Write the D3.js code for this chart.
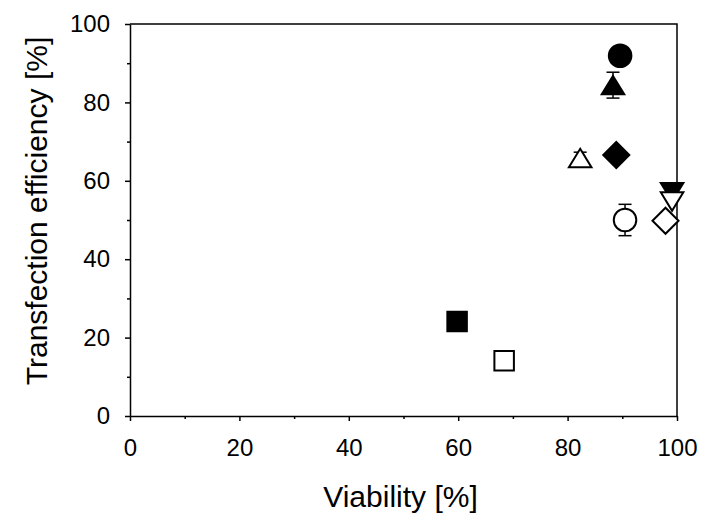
<!DOCTYPE html>
<html>
<head>
<meta charset="utf-8">
<script src="https://d3js.org/d3.v7.min.js"></script>
<style>
  body { margin: 0; background: #fff; }
  text { font-family: "Liberation Sans", Arial, sans-serif; fill: #000; }
</style>
</head>
<body>
<div id="chart"></div>
<script>
// data
var viability  = [89.6, 88.3, 82.3, 88.9, 99.1, 99.1, 97.9, 90.5, 59.8, 68.4];
var efficiency = [91.9, 84.4, 65.8, 66.6, 57.1, 54.7, 49.8, 50.0, 24.1, 14.1];
var errors     = [0,    3.3,  1.5,  0,    0,    0,    0,    4.0,  0,    0];
var shapes     = ["circle", "triUp", "triUp", "diamond", "triDown", "triDown", "diamond", "circle", "square", "square"];
var filled     = [true, true, false, true, true, false, false, false, true, false];
var ticks      = [0, 20, 40, 60, 80, 100];
var minorTicks = [10, 30, 50, 70, 90];

var W = 702, H = 525;
var margin = {top: 24, right: 25, bottom: 109, left: 130};
var width = W - margin.left - margin.right,
    height = H - margin.top - margin.bottom;

var svg = d3.select("#chart").append("svg")
    .attr("width", W).attr("height", H);
var g = svg.append("g")
    .attr("transform", "translate(" + margin.left + "," + margin.top + ")");

var x = d3.scaleLinear().domain([0, 100]).range([0, width]);
var y = d3.scaleLinear().domain([0, 100]).range([height, 0]);

// frame (top + right)
g.append("path")
  .attr("d", "M0,0H" + width + "V" + height)
  .attr("fill", "none").attr("stroke", "#000").attr("stroke-width", 1.5);

// axes
function styleAxis(sel) {
  sel.select(".domain").attr("stroke-width", 1.5);
  sel.selectAll(".tick line").attr("stroke-width", 1.5);
}
var xAxis = g.append("g").attr("transform", "translate(0," + height + ")")
  .call(d3.axisBottom(x).tickValues(ticks).tickSize(5).tickPadding(18).tickSizeOuter(0));
xAxis.call(styleAxis);
xAxis.selectAll("text").attr("font-size", 24).style("font-family", "Liberation Sans, Arial, sans-serif");
g.append("g").attr("transform", "translate(0," + height + ")")
  .call(d3.axisBottom(x).tickValues(minorTicks).tickSize(3).tickFormat(""))
  .call(function(s) { s.select(".domain").remove(); s.selectAll("line").attr("stroke-width", 1.5); });

var yAxis = g.append("g")
  .call(d3.axisLeft(y).tickValues(ticks).tickSize(5).tickPadding(15).tickSizeOuter(0));
yAxis.call(styleAxis);
yAxis.selectAll("text").attr("font-size", 24).style("font-family", "Liberation Sans, Arial, sans-serif");
g.append("g")
  .call(d3.axisLeft(y).tickValues(minorTicks).tickSize(3).tickFormat(""))
  .call(function(s) { s.select(".domain").remove(); s.selectAll("line").attr("stroke-width", 1.5); });

// axis titles
svg.append("text")
  .attr("x", margin.left + width / 2 - 3).attr("y", 507)
  .attr("text-anchor", "middle").attr("font-size", 30)
  .text("Viability [%]");
svg.append("text")
  .attr("transform", "translate(47,211) rotate(-90)")
  .attr("text-anchor", "middle").attr("font-size", 30)
  .text("Transfection efficiency [%]");

// symbol shapes
var symbolTypes = {
  circle: d3.symbolCircle,
  square: d3.symbolSquare,
  diamond: { draw: function(c, size) { var r = Math.sqrt(size / 2);
    c.moveTo(0, -r); c.lineTo(r, 0); c.lineTo(0, r); c.lineTo(-r, 0); c.closePath(); } },
  triUp: { draw: function(c, size) { var s = Math.sqrt(size);
    c.moveTo(0, -s * 0.45); c.lineTo(s * 0.55, s * 0.45); c.lineTo(-s * 0.55, s * 0.45); c.closePath(); } },
  triDown: { draw: function(c, size) { var s = Math.sqrt(size);
    c.moveTo(0, s * 0.45); c.lineTo(s * 0.55, -s * 0.45); c.lineTo(-s * 0.55, -s * 0.45); c.closePath(); } }
};
var symbolSizes = { circle: 400, square: 380, diamond: 340, triUp: 420, triDown: 420 };

var points = viability.map(function(v, i) {
  return { x: v, y: efficiency[i], err: errors[i], shape: shapes[i], filled: filled[i] };
});

// error bars
var eb = g.selectAll(".err").data(points.filter(function(d) { return d.err > 0; }))
  .enter().append("g").attr("class", "err")
  .attr("stroke", "#000").attr("stroke-width", 1.5);
eb.append("line")
  .attr("x1", function(d) { return x(d.x); }).attr("x2", function(d) { return x(d.x); })
  .attr("y1", function(d) { return y(d.y + d.err); }).attr("y2", function(d) { return y(d.y - d.err); });
[1, -1].forEach(function(sgn) {
  eb.append("line")
    .attr("x1", function(d) { return x(d.x) - 6.5; }).attr("x2", function(d) { return x(d.x) + 6.5; })
    .attr("y1", function(d) { return y(d.y + sgn * d.err); }).attr("y2", function(d) { return y(d.y + sgn * d.err); });
});

// markers
g.selectAll(".pt").data(points).enter().append("path")
  .attr("class", "pt")
  .attr("transform", function(d) { return "translate(" + x(d.x) + "," + y(d.y) + ")"; })
  .attr("d", function(d) { return d3.symbol().type(symbolTypes[d.shape]).size(symbolSizes[d.shape])(); })
  .attr("fill", function(d) { return d.filled ? "#000" : "#fff"; })
  .attr("stroke", "#000").attr("stroke-width", 2);
</script>
</body>
</html>
